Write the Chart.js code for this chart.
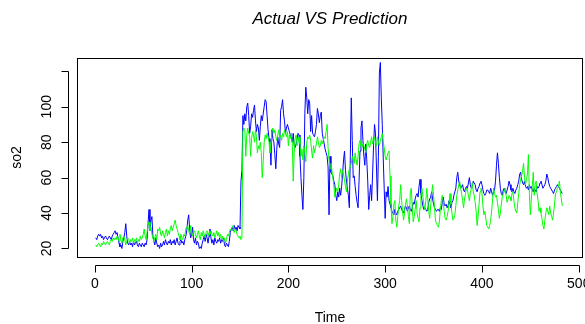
<!DOCTYPE html>
<html>
<head>
<meta charset="utf-8">
<script src="https://cdn.jsdelivr.net/npm/chart.js@4/dist/chart.umd.min.js"></script>
<style>
  html, body { margin: 0; padding: 0; background: #fff; }
  canvas { display: block; }
</style>
</head>
<body>
<canvas id="chart" width="585" height="324"></canvas>
<script>
// so2 series, time = 1..483
const actual = [
  26, 25, 27, 28, 27, 28, 26, 27, 25, 26,
  27, 26, 25, 26, 27, 26, 25, 27, 28, 29,
  30, 28, 29, 26, 23, 21, 22, 20, 24, 26,
  29, 34, 27, 23, 22, 24, 22, 23, 21, 24,
  22, 23, 24, 22, 21, 23, 22, 21, 23, 22,
  21, 23, 22, 25, 34, 42, 30, 36, 38, 27,
  24, 22, 26, 23, 21, 22, 20, 23, 21, 22,
  24, 22, 25, 23, 22, 24, 23, 25, 22, 24,
  23, 25, 22, 24, 26, 23, 22, 24, 25, 23,
  24, 22, 25, 27, 30, 36, 39, 31, 26, 28,
  32, 25, 23, 26, 22, 24, 23, 20, 21, 20,
  23, 25, 27, 24, 28, 26, 23, 27, 31, 26,
  23, 25, 22, 26, 24, 23, 25, 24, 26, 23,
  25, 24, 26, 22, 21, 23, 22, 21, 24, 29,
  31, 32, 30, 33, 31, 32, 30, 33, 32, 31,
  58, 64, 95, 90, 96, 92, 100, 102, 95, 85,
  89, 96, 94, 98, 101, 92, 86, 90, 88, 81,
  89, 95, 92, 96, 100, 104, 103, 95, 87, 82,
  79, 67, 87, 82, 80, 73, 65, 76, 83, 79,
  77, 98, 100, 104, 96, 92, 85, 88, 90, 88,
  86, 84, 83, 80, 85, 78, 77, 79, 82, 85,
  84, 72, 60, 50, 42, 60, 96, 111, 105, 96,
  104, 102, 86, 95, 85, 84, 83, 86, 90, 99,
  96, 91, 95, 97, 85, 82, 79, 76, 74, 72,
  66, 39, 72, 63, 62, 61, 58, 56, 50, 47,
  52, 49, 54, 50, 55, 62, 70, 75, 64, 58,
  54, 50, 43, 72, 105, 81, 60, 61, 55, 50,
  46, 43, 58, 75, 88, 92, 81, 72, 67, 79,
  70, 58, 42, 50, 56, 47, 62, 78, 90, 85,
  66, 47, 72, 119, 125, 105, 90, 71, 54, 37,
  52, 49, 55, 47, 45, 43, 41, 40, 39, 42,
  40, 39, 41, 42, 43, 44, 42, 41, 40, 42,
  44, 43, 41, 43, 44, 42, 41, 43, 46, 45,
  48, 50, 51, 49, 55, 59, 51, 47, 44, 42,
  43, 42, 41, 42, 46, 48, 49, 52, 48, 45,
  43, 42, 41, 42, 42, 41, 43, 42, 46, 49,
  45, 44, 45, 43, 44, 47, 45, 43, 46, 47,
  50, 52, 54, 60, 63, 58, 56, 54, 55, 56,
  53, 52, 54, 55, 54, 57, 60, 56, 54, 55,
  58, 57, 56, 53, 52, 54, 55, 57, 58, 56,
  53, 51, 50, 51, 53, 53, 52, 51, 54, 52,
  50, 52, 53, 58, 67, 74, 68, 60, 54, 51,
  50, 53, 54, 52, 51, 53, 55, 58, 56, 53,
  52, 54, 52, 51, 53, 54, 56, 58, 62, 63,
  59, 57, 56, 58, 55, 54, 55, 53, 56, 54,
  55, 53, 52, 54, 53, 52, 55, 54, 55, 57,
  58, 56, 54, 55, 56, 58, 62, 60, 57, 55,
  54, 53, 52, 51, 53, 54, 55, 56, 55, 54,
  53, 52, 51
];

const predicted = [
  22, 21, 22, 23, 22, 21, 23, 22, 24, 23,
  22, 23, 24, 23, 22, 24, 25, 24, 26, 25,
  26, 25, 27, 26, 24, 28, 25, 23, 26, 27,
  25, 22, 24, 26, 25, 23, 25, 24, 26, 23,
  25, 24, 26, 23, 25, 24, 27, 25, 26, 28,
  31, 27, 25, 29, 33, 35, 30, 32, 28, 26,
  24, 26, 28, 25, 31, 30, 32, 28, 27, 30,
  28, 26, 29, 31, 27, 30, 28, 31, 33, 30,
  32, 34, 36, 33, 31, 29, 27, 25, 28, 26,
  25, 28, 27, 31, 32, 33, 30, 28, 33, 29,
  27, 29, 30, 28, 26, 28, 30, 27, 25, 29,
  27, 30, 28, 26, 29, 30, 27, 29, 28, 30,
  28, 27, 29, 26, 28, 30, 27, 29, 26, 28,
  25, 27, 24, 26, 23, 25, 28, 27, 29, 31,
  30, 32, 33, 29, 31, 30, 28, 27, 26, 27,
  25, 26, 86, 88, 87, 72, 84, 88, 85, 83,
  72, 82, 86, 84, 80, 87, 83, 74, 78, 76,
  80, 74, 60, 69, 80, 84, 82, 85, 83, 80,
  74, 78, 86, 88, 85, 87, 83, 81, 84, 87,
  82, 84, 81, 85, 83, 87, 85, 83, 86, 78,
  84, 82, 85, 80, 58, 74, 82, 84, 78, 80,
  83, 79, 72, 76, 70, 78, 74, 69, 80, 83,
  82, 84, 81, 75, 71, 78, 74, 77, 79, 83,
  80, 77, 78, 81, 79, 81, 83, 82, 86, 90,
  77, 70, 65, 68, 64, 60, 55, 49, 52, 54,
  52, 56, 62, 65, 60, 64, 62, 58, 55, 52,
  58, 62, 65, 66, 68, 72, 70, 68, 74, 70,
  67, 72, 79, 81, 78, 77, 79, 78, 76, 74,
  79, 81, 78, 77, 80, 83, 79, 81, 83, 80,
  78, 83, 80, 78, 81, 83, 85, 80, 77, 72,
  70, 72, 74, 75, 61, 45, 34, 38, 45, 47,
  36, 32, 38, 44, 47, 56, 47, 41, 36, 40,
  45, 48, 44, 38, 34, 52, 54, 43, 35, 38,
  42, 47, 40, 37, 35, 43, 50, 54, 49, 45,
  42, 47, 54, 48, 41, 37, 44, 50, 56, 50,
  43, 36, 34, 33, 32, 35, 42, 47, 50, 46,
  41, 37, 36, 38, 41, 46, 51, 45, 40, 36,
  37, 39, 44, 50, 53, 56, 58, 54, 51, 47,
  43, 48, 51, 54, 53, 50, 47, 51, 54, 57,
  52, 50, 46, 41, 33, 38, 45, 52, 54, 51,
  44, 39, 41, 37, 33, 32, 31, 33, 36, 41,
  48, 54, 51, 49, 50, 46, 42, 37, 40, 45,
  49, 51, 52, 54, 50, 46, 48, 50, 49, 47,
  51, 52, 47, 43, 41, 40, 46, 51, 56, 59,
  61, 64, 68, 60, 56, 59, 62, 73, 51, 39,
  48, 55, 63, 50, 56, 58, 51, 47, 41, 43,
  40, 37, 33, 31, 36, 40, 43, 41, 39, 44,
  40, 38, 36, 40, 45, 51, 52, 54, 55, 58,
  52, 48, 44
];

const xTicks = [0, 100, 200, 300, 400, 500];
const yTicks = [20, 40, 60, 80, 100, 120];
const yTickLabels = ['20', '40', '60', '80', '100', ''];

const font = '"Liberation Sans", Arial, sans-serif';

// time index starts at 1 like an R ts
const toPoints = (arr) => arr.map((v, i) => ({x: i + 1, y: v}));

// base-graphics look: box, detached axes, rotated y labels
const rAxes = {
  id: 'rAxes',
  afterDraw(chart) {
    const {ctx, chartArea: a} = chart;
    const x = chart.scales.x, y = chart.scales.y;
    ctx.save();
    ctx.strokeStyle = '#000';
    ctx.fillStyle = '#000';
    ctx.lineWidth = 1;
    ctx.strokeRect(Math.round(a.left) + 0.5, Math.round(a.top) + 0.5,
      Math.round(a.right - a.left) - 1, Math.round(a.bottom - a.top));

    // x axis
    const ax = Math.round(a.bottom) + 8.5;
    const x0 = Math.round(x.getPixelForValue(xTicks[0])) + 0.5;
    const x1 = Math.round(x.getPixelForValue(xTicks[xTicks.length - 1])) + 0.5;
    ctx.beginPath();
    ctx.moveTo(x0, ax); ctx.lineTo(x1, ax);
    xTicks.forEach(t => {
      const px = Math.round(x.getPixelForValue(t)) + 0.5;
      ctx.moveTo(px, ax); ctx.lineTo(px, ax + 7);
    });
    ctx.stroke();
    ctx.font = '14px ' + font;
    ctx.textAlign = 'center';
    ctx.textBaseline = 'middle';
    xTicks.forEach(t => ctx.fillText(String(t), x.getPixelForValue(t), 284));
    ctx.fillText('Time', (a.left + a.right) / 2, 318);

    // y axis
    const ay = Math.round(a.left) - 8.5;
    const y0 = Math.round(y.getPixelForValue(yTicks[0])) + 0.5;
    const y1 = Math.round(y.getPixelForValue(yTicks[yTicks.length - 1])) + 0.5;
    ctx.beginPath();
    ctx.moveTo(ay, y0); ctx.lineTo(ay, y1);
    yTicks.forEach(t => {
      const py = Math.round(y.getPixelForValue(t)) + 0.5;
      ctx.moveTo(ay, py); ctx.lineTo(ay - 7, py);
    });
    ctx.stroke();
    yTicks.forEach((t, i) => {
      ctx.save();
      ctx.translate(47, y.getPixelForValue(t));
      ctx.rotate(-Math.PI / 2);
      ctx.fillText(yTickLabels[i], 0, 0);
      ctx.restore();
    });
    ctx.save();
    ctx.translate(17, (a.top + a.bottom) / 2);
    ctx.rotate(-Math.PI / 2);
    ctx.fillText('so2', 0, 0);
    ctx.restore();

    // title
    ctx.font = 'italic 17px ' + font;
    ctx.fillText('Actual VS Prediction', (a.left + a.right) / 2, 19);
    ctx.restore();
  }
};

new Chart(document.getElementById('chart'), {
  type: 'line',
  data: {
    datasets: [
      {
        label: 'Prediction',
        data: toPoints(predicted),
        borderColor: '#00ff00',
        order: 0
      },
      {
        label: 'Actual',
        data: toPoints(actual),
        borderColor: '#0000ff',
        order: 1
      }
    ]
  },
  options: {
    responsive: false,
    animation: false,
    devicePixelRatio: 1,
    layout: {padding: {left: 77, right: 2, top: 58, bottom: 67}},
    elements: {
      line: {borderWidth: 1, tension: 0},
      point: {radius: 0}
    },
    plugins: {
      legend: {display: false},
      tooltip: {enabled: false},
      title: {display: false}
    },
    scales: {
      x: {type: 'linear', min: -18.4, max: 504.4, display: false},
      y: {type: 'linear', min: 15.2, max: 127.5, display: false}
    }
  },
  plugins: [rAxes]
});
</script>
</body>
</html>
